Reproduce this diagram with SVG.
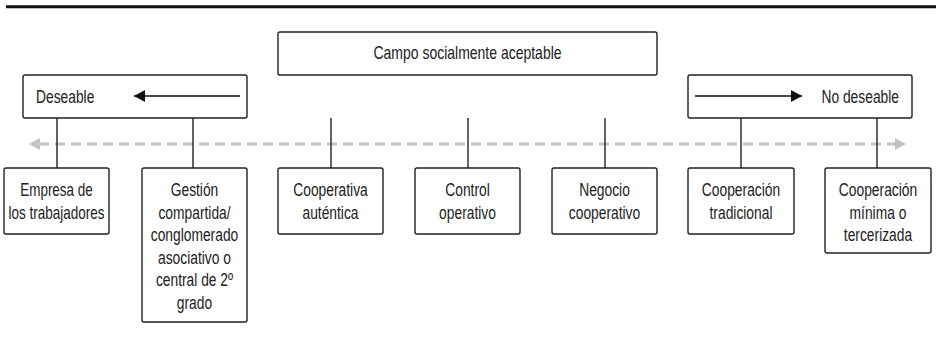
<svg xmlns="http://www.w3.org/2000/svg" width="937" height="346" viewBox="0 0 937 346">
<defs>
<style>
.box{fill:#fff;stroke:#222;stroke-width:1.4}
.t{font-family:"Liberation Sans",Arial,sans-serif;font-size:17.5px;fill:#222}
.c{text-anchor:middle}
.ln{stroke:#222;stroke-width:1.4;fill:none}
.dash{stroke:#c4c4c4;stroke-width:3;stroke-dasharray:10 6;fill:none}
</style>
<marker id="ab" markerWidth="12" markerHeight="12" refX="11" refY="6" orient="auto" markerUnits="userSpaceOnUse">
<path d="M0,0 L11,6 L0,12 Z" fill="#111"/>
</marker>
</defs>
<rect width="937" height="346" fill="#fff"/>
<line x1="6" y1="6.7" x2="936" y2="6.7" stroke="#111" stroke-width="3"/>

<g id="connectors">
<line class="dash" x1="39" y1="144" x2="896" y2="144"/>
<path d="M29,144 L40,138 L40,150 Z" fill="#c4c4c4"/>
<path d="M906,144 L895,138 L895,150 Z" fill="#c4c4c4"/>
<line class="ln" x1="57" y1="118" x2="57" y2="168"/>
<line class="ln" x1="193" y1="118" x2="193" y2="168"/>
<line class="ln" x1="331" y1="118" x2="331" y2="168"/>
<line class="ln" x1="468" y1="118" x2="468" y2="168"/>
<line class="ln" x1="605" y1="118" x2="605" y2="168"/>
<line class="ln" x1="741" y1="118" x2="741" y2="168"/>
<line class="ln" x1="877" y1="118" x2="877" y2="168"/>
</g>

<g id="campo">
<rect class="box" x="278" y="32" width="379" height="43" rx="2"/>
<g transform="translate(467.5,0) scale(0.8,1)"><text class="t c" x="0" y="59">Campo socialmente aceptable</text></g>
</g>

<g id="deseable">
<rect class="box" x="23" y="75" width="224" height="43" rx="2"/>
<g transform="translate(36,0) scale(0.79,1)"><text class="t" x="0" y="103">Deseable</text></g>
<line x1="240" y1="96" x2="134" y2="96" stroke="#111" stroke-width="1.4" marker-end="url(#ab)"/>
</g>

<g id="nodeseable">
<rect class="box" x="688" y="75" width="224" height="43" rx="2"/>
<g transform="translate(899,0) scale(0.79,1)"><text class="t" x="0" y="103" text-anchor="end">No deseable</text></g>
<line x1="695" y1="96" x2="802" y2="96" stroke="#111" stroke-width="1.4" marker-end="url(#ab)"/>
</g>

<g id="n1">
<rect class="box" x="4" y="168" width="105" height="66" rx="2"/>
<g transform="translate(56.5,0) scale(0.77,1)">
<text class="t c" x="0" y="196">Empresa de</text>
<text class="t c" x="0" y="219">los trabajadores</text>
</g>
</g>

<g id="n2">
<rect class="box" x="142" y="168" width="105" height="154" rx="2"/>
<g transform="translate(194.5,0) scale(0.79,1)">
<text class="t c" x="0" y="196">Gestión</text>
<text class="t c" x="0" y="219">compartida/</text>
<text class="t c" x="0" y="241.5">conglomerado</text>
<text class="t c" x="0" y="264">asociativo o</text>
<text class="t c" x="0" y="286.5">central de 2º</text>
<text class="t c" x="0" y="309">grado</text>
</g>
</g>

<g id="n3">
<rect class="box" x="278" y="168" width="105" height="66" rx="2"/>
<g transform="translate(330.5,0) scale(0.79,1)">
<text class="t c" x="0" y="196">Cooperativa</text>
<text class="t c" x="0" y="219">auténtica</text>
</g>
</g>

<g id="n4">
<rect class="box" x="415" y="168" width="105" height="66" rx="2"/>
<g transform="translate(467.5,0) scale(0.79,1)">
<text class="t c" x="0" y="196">Control</text>
<text class="t c" x="0" y="219">operativo</text>
</g>
</g>

<g id="n5">
<rect class="box" x="552" y="168" width="105" height="66" rx="2"/>
<g transform="translate(604.5,0) scale(0.79,1)">
<text class="t c" x="0" y="196">Negocio</text>
<text class="t c" x="0" y="219">cooperativo</text>
</g>
</g>

<g id="n6">
<rect class="box" x="688" y="168" width="106" height="66" rx="2"/>
<g transform="translate(741,0) scale(0.79,1)">
<text class="t c" x="0" y="196">Cooperación</text>
<text class="t c" x="0" y="219">tradicional</text>
</g>
</g>

<g id="n7">
<rect class="box" x="825" y="168" width="106" height="85" rx="2"/>
<g transform="translate(878,0) scale(0.79,1)">
<text class="t c" x="0" y="196">Cooperación</text>
<text class="t c" x="0" y="219">mínima o</text>
<text class="t c" x="0" y="241.5">tercerizada</text>
</g>
</g>
</svg>
